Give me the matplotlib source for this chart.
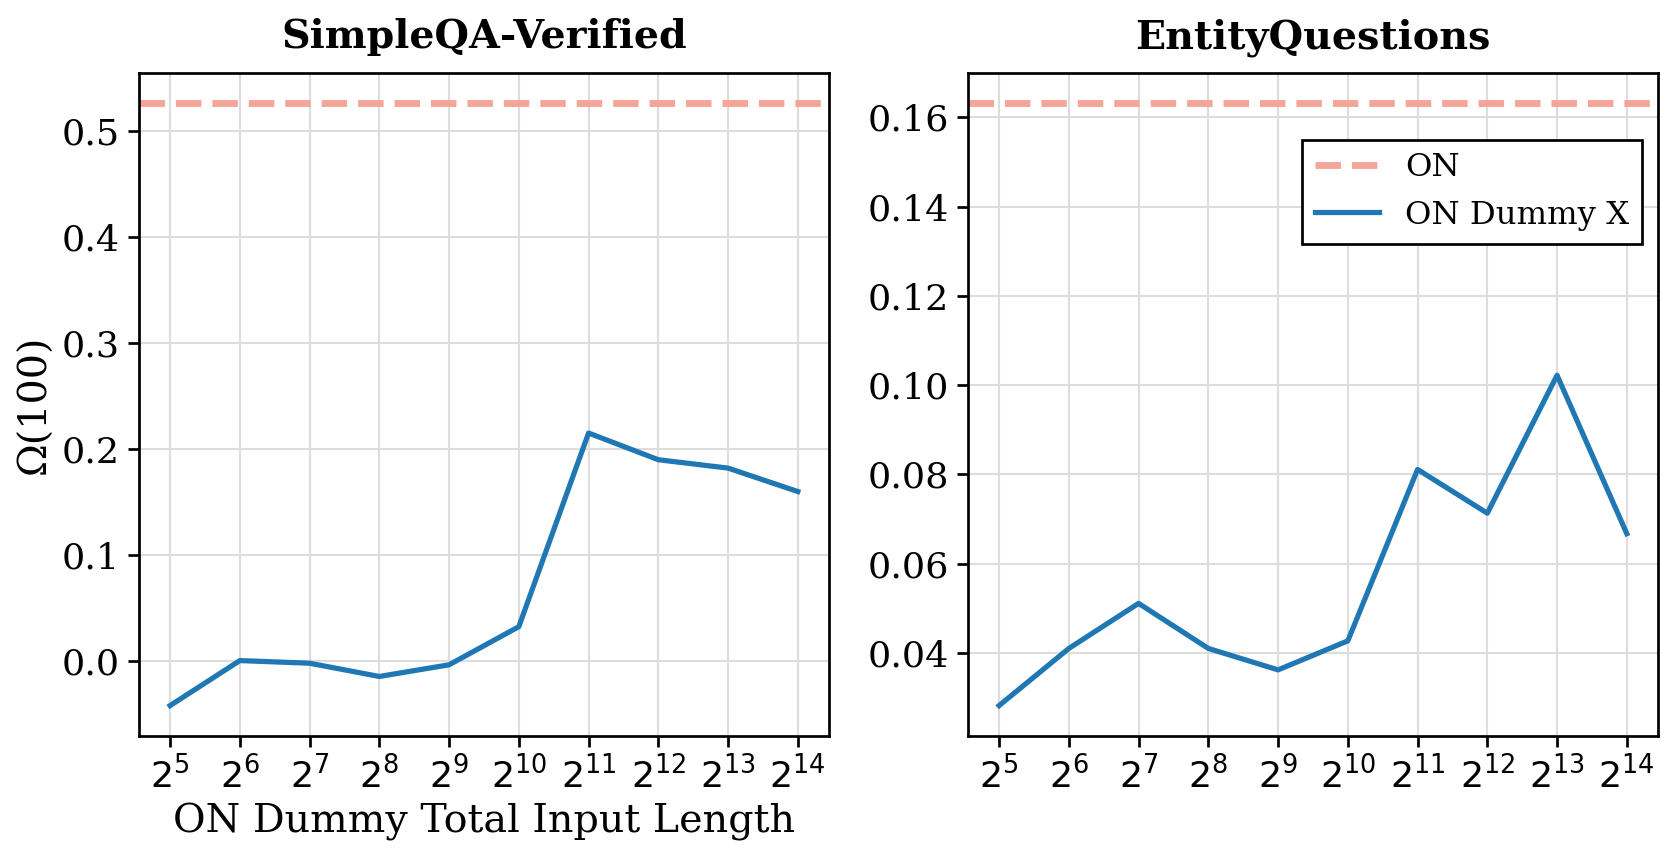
import matplotlib
matplotlib.use("Agg")
import matplotlib.pyplot as plt

# x positions are exponents of 2 for the dummy input length
exponents = [5, 6, 7, 8, 9, 10, 11, 12, 13, 14]
lengths = [2 ** k for k in exponents]
tick_labels = [f"$2^{{{k}}}$" for k in exponents]

titles = ["SimpleQA-Verified", "EntityQuestions"]
on_baseline = [0.526, 0.1631]
simpleqa_dummy = [-0.0425, 0.000, -0.0025, -0.015, -0.004, 0.032, 0.2148, 0.1896, 0.1817, 0.1596]
entityq_dummy = [0.0282, 0.0410, 0.0511, 0.0410, 0.0362, 0.0427, 0.0811, 0.0713, 0.1022, 0.0667]

plt.rcParams["font.family"] = "DejaVu Serif"
plt.rcParams["mathtext.fontset"] = "dejavusans"

W, H = 1672, 852
fig = plt.figure(figsize=(W / 150, H / 150), dpi=150)
ax_l = fig.add_axes([138.7 / W, 1 - 735.7 / H, 690.5 / W, 662.4 / H])
ax_r = fig.add_axes([967.7 / W, 1 - 735.7 / H, 690.5 / W, 662.4 / H])

for ax, title, base, series in zip([ax_l, ax_r], titles, on_baseline, [simpleqa_dummy, entityq_dummy]):
    ax.axhline(base, color="#f4a597", linestyle="--", linewidth=3.3, label="ON")
    ax.plot(lengths, series, color="#1f77b4", linewidth=2.5, label="ON Dummy X")
    ax.set_xscale("log", base=2)
    ax.set_xticks(lengths)
    ax.set_xticklabels(tick_labels)
    ax.minorticks_off()
    ax.set_title(title, fontsize=19, fontweight="bold", pad=12)
    ax.grid(True, color="#dddddd", linewidth=1.0)
    ax.set_axisbelow(True)
    ax.tick_params(axis="both", labelsize=17.5, length=5.5, width=1.3)
    for s in ax.spines.values():
        s.set_linewidth(1.3)

ax_l.set_yticks([0.0, 0.1, 0.2, 0.3, 0.4, 0.5])
ax_r.set_yticks([0.04, 0.06, 0.08, 0.10, 0.12, 0.14, 0.16])
ax_l.set_xlabel("ON Dummy Total Input Length", fontsize=19, labelpad=4)
ax_l.set_ylabel("Ω(100)", fontsize=19)

leg = ax_r.legend(loc="upper right", bbox_to_anchor=(0.9765, 0.90), borderaxespad=0,
                  fontsize=15.5, fancybox=False, edgecolor="black", framealpha=1.0)
leg.get_frame().set_linewidth(1.3)

fig.savefig("out.png", dpi=150)
